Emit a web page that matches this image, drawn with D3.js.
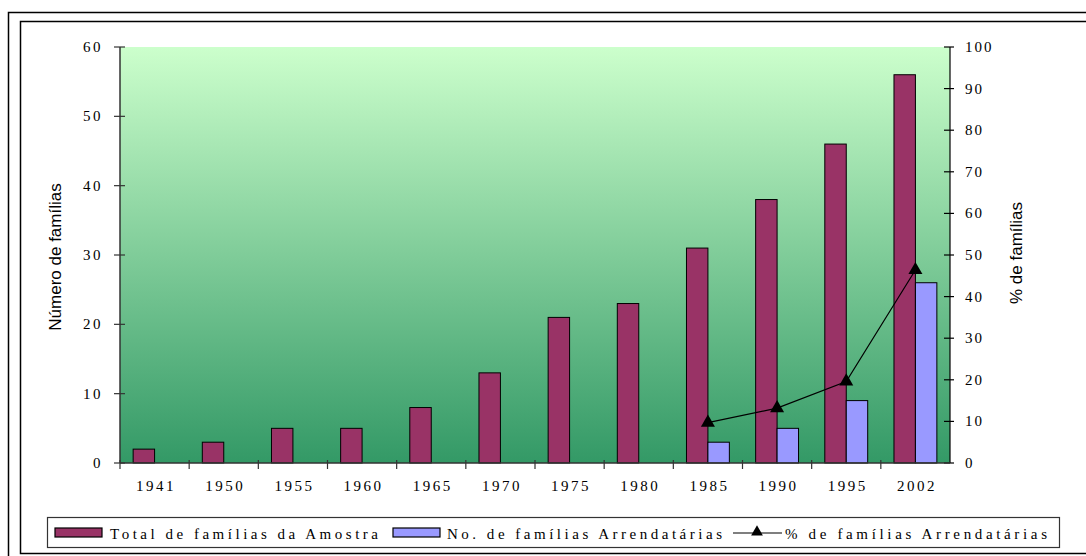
<!DOCTYPE html>
<html>
<head>
<meta charset="utf-8">
<script src="https://cdn.jsdelivr.net/npm/d3@7"></script>
<style>
  body { margin: 0; background: #fff; }
  svg { display: block; }
  .tick-label { font-family: "Liberation Serif", "Times New Roman", serif; font-size: 15px; letter-spacing: 2.5px; fill: #000; }
  .axis-title { font-family: "Liberation Sans", Arial, sans-serif; font-size: 17px; fill: #000; }
</style>
</head>
<body>
<div id="chart"></div>
<script>
// data
const years = ["1941", "1950", "1955", "1960", "1965", "1970", "1975", "1980", "1985", "1990", "1995", "2002"];
const totalFamilias = [2, 3, 5, 5, 8, 13, 21, 23, 31, 38, 46, 56];
const familiasArrendatarias = [null, null, null, null, null, null, null, null, 3, 5, 9, 26];
const pctArrendatarias = [null, null, null, null, null, null, null, null, 9.7, 13.2, 19.6, 46.4];
const leftTicks = [0, 10, 20, 30, 40, 50, 60];
const rightTicks = [0, 10, 20, 30, 40, 50, 60, 70, 80, 90, 100];

const width = 1086, height = 556;
const plot = { left: 120, right: 950, top: 47, bottom: 463 };

const svg = d3.select("#chart")
  .append("svg")
  .attr("width", width)
  .attr("height", height);

// frames
svg.append("rect")
  .attr("x", 8.5).attr("y", 12.5)
  .attr("width", 1100).attr("height", 600)
  .attr("fill", "none").attr("stroke", "#000").attr("stroke-width", 1.5);
svg.append("rect")
  .attr("x", 20.5).attr("y", 21.5)
  .attr("width", 1100).attr("height", 532)
  .attr("fill", "none").attr("stroke", "#000").attr("stroke-width", 1.5);

// gradient
const grad = svg.append("defs").append("linearGradient")
  .attr("id", "bg").attr("x1", 0).attr("y1", 0).attr("x2", 0).attr("y2", 1);
grad.append("stop").attr("offset", "0%").attr("stop-color", "#ccffcc");
grad.append("stop").attr("offset", "100%").attr("stop-color", "#339966");

svg.append("rect")
  .attr("x", plot.left).attr("y", plot.top)
  .attr("width", plot.right - plot.left).attr("height", plot.bottom - plot.top)
  .attr("fill", "url(#bg)");

// scales
const x0 = d3.scaleBand().domain(years).range([plot.left, plot.right]).padding(0);
const groupW = x0.bandwidth() * 0.62;
const x1 = d3.scaleBand().domain(["total", "arr"]).range([0, groupW]);
const yL = d3.scaleLinear().domain([0, 60]).range([plot.bottom, plot.top]);
const yR = d3.scaleLinear().domain([0, 100]).range([plot.bottom, plot.top]);
const gx = d => x0(d) + (x0.bandwidth() - groupW) / 2;

// bars
svg.append("g").selectAll("rect")
  .data(years.map((y, i) => ({ year: y, v: totalFamilias[i] })))
  .enter().append("rect")
  .attr("x", d => gx(d.year) + x1("total"))
  .attr("y", d => yL(d.v))
  .attr("width", x1.bandwidth())
  .attr("height", d => yL(0) - yL(d.v))
  .attr("fill", "#993366")
  .attr("stroke", "#000").attr("stroke-width", 1);

svg.append("g").selectAll("rect")
  .data(years.map((y, i) => ({ year: y, v: familiasArrendatarias[i] })).filter(d => d.v != null))
  .enter().append("rect")
  .attr("x", d => gx(d.year) + x1("arr"))
  .attr("y", d => yL(d.v))
  .attr("width", x1.bandwidth())
  .attr("height", d => yL(0) - yL(d.v))
  .attr("fill", "#9999ff")
  .attr("stroke", "#000").attr("stroke-width", 1);

// line
const pts = years.map((y, i) => ({ year: y, v: pctArrendatarias[i] })).filter(d => d.v != null);
const cx = d => x0(d) + x0.bandwidth() / 2;
svg.append("path")
  .datum(pts)
  .attr("fill", "none").attr("stroke", "#000").attr("stroke-width", 1.2)
  .attr("d", d3.line().x(d => cx(d.year)).y(d => yR(d.v)));
svg.append("g").selectAll("path")
  .data(pts)
  .enter().append("path")
  .attr("transform", d => `translate(${cx(d.year)}, ${yR(d.v)})`)
  .attr("d", d3.symbol(d3.symbolTriangle, 85))
  .attr("fill", "#000");

// left axis
const axL = svg.append("g");
axL.append("line")
  .attr("x1", plot.left).attr("x2", plot.left)
  .attr("y1", plot.top).attr("y2", plot.bottom)
  .attr("stroke", "#333").attr("stroke-width", 1.5);
leftTicks.forEach(t => {
  axL.append("line")
    .attr("x1", plot.left - 6).attr("x2", plot.left + 5)
    .attr("y1", yL(t)).attr("y2", yL(t))
    .attr("stroke", "#333").attr("stroke-width", 1.2);
  axL.append("text")
    .attr("class", "tick-label")
    .attr("x", 103).attr("y", yL(t) + 5)
    .attr("text-anchor", "end")
    .text(t);
});

// right axis
const axR = svg.append("g");
axR.append("line")
  .attr("x1", plot.right).attr("x2", plot.right)
  .attr("y1", plot.top).attr("y2", plot.bottom)
  .attr("stroke", "#000").attr("stroke-width", 1.2);
rightTicks.forEach(t => {
  axR.append("line")
    .attr("x1", plot.right - 6).attr("x2", plot.right + 4)
    .attr("y1", yR(t)).attr("y2", yR(t))
    .attr("stroke", "#000").attr("stroke-width", 1.2);
  axR.append("text")
    .attr("class", "tick-label")
    .attr("x", 965).attr("y", yR(t) + 5)
    .style("letter-spacing", "2px")
    .text(t);
});

// x axis
const axX = svg.append("g");
axX.append("line")
  .attr("x1", plot.left).attr("x2", plot.right)
  .attr("y1", plot.bottom).attr("y2", plot.bottom)
  .attr("stroke", "#333").attr("stroke-width", 1.5);
years.forEach((y, i) => {
  axX.append("line")
    .attr("x1", x0(y)).attr("x2", x0(y))
    .attr("y1", plot.bottom - 3).attr("y2", plot.bottom + 6)
    .attr("stroke", "#333").attr("stroke-width", 1.2);
  axX.append("text")
    .attr("class", "tick-label")
    .attr("x", cx(y) + 1.5).attr("y", 491)
    .attr("text-anchor", "middle")
    .text(y);
});

// axis titles
svg.append("text")
  .attr("class", "axis-title")
  .attr("transform", "translate(61, 257) rotate(-90)")
  .attr("text-anchor", "middle")
  .text("Número de famílias");
svg.append("text")
  .attr("class", "axis-title")
  .attr("transform", "translate(1022, 253) rotate(-90)")
  .attr("text-anchor", "middle")
  .text("% de famílias");

// legend
svg.append("rect")
  .attr("x", 47.5).attr("y", 517.5)
  .attr("width", 1012).attr("height", 30)
  .attr("fill", "#fff").attr("stroke", "#333").attr("stroke-width", 1.2);

const legendItems = [
  { label: "Total de famílias da Amostra", type: "bar", color: "#993366", sx: 55, tx: 110, tw: 268 },
  { label: "No. de famílias Arrendatárias", type: "bar", color: "#9999ff", sx: 393, tx: 447, tw: 275 },
  { label: "% de famílias Arrendatárias", type: "line", sx: 733, tx: 785, tw: 262 }
];
legendItems.forEach(it => {
  if (it.type === "bar") {
    svg.append("rect")
      .attr("x", it.sx).attr("y", 528)
      .attr("width", 47).attr("height", 9)
      .attr("fill", it.color).attr("stroke", "#000").attr("stroke-width", 1.2);
  } else {
    svg.append("line")
      .attr("x1", it.sx).attr("x2", it.sx + 49)
      .attr("y1", 533).attr("y2", 533)
      .attr("stroke", "#000").attr("stroke-width", 1.2);
    svg.append("path")
      .attr("transform", `translate(${it.sx + 24}, 532)`)
      .attr("d", d3.symbol(d3.symbolTriangle, 60))
      .attr("fill", "#000");
  }
  svg.append("text")
    .attr("class", "tick-label")
    .attr("x", it.tx).attr("y", 539)
    .attr("textLength", it.tw)
    .attr("lengthAdjust", "spacing")
    .style("letter-spacing", "0px")
    .text(it.label);
});
</script>
</body>
</html>
